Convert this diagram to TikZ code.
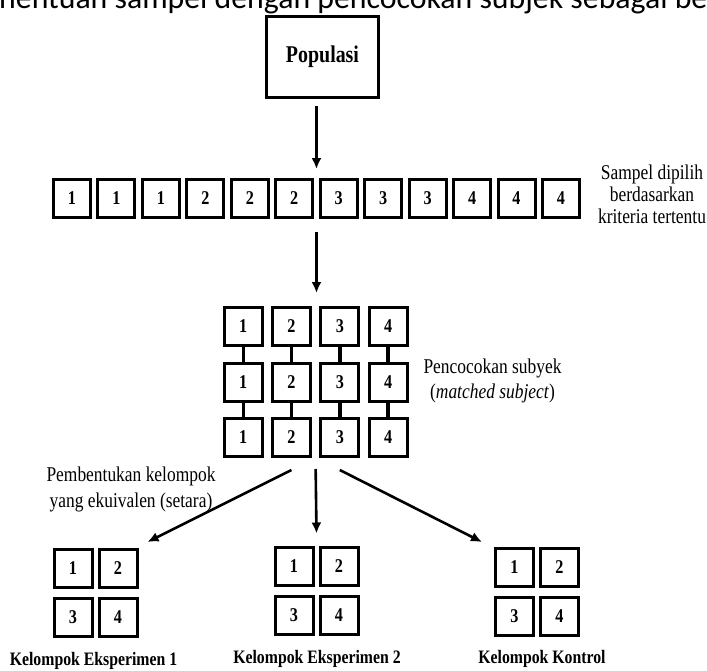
\documentclass[tikz,border=0pt]{standalone}
\usepackage{fontspec}
\setmainfont{Liberation Serif}[FakeStretch=0.83]
\newfontfamily\captionfont{Carlito}
\usepackage{tikz}
\usetikzlibrary{arrows.meta}
\usetikzlibrary{positioning}
\usetikzlibrary{calc}
\tikzset{>=latex}
\tikzset{
    flow/.style = {-{Latex[length=11pt,width=10pt]}, line width=2.6pt},
    pair/.style = {line width=3.4pt},
}
\newcommand\cellsize{38pt}
\newcommand\rowstep{44.45pt}
\newcommand\gridstep{48.3pt}
\tikzset{
    cell/.style={draw, line width=3pt, minimum width=\cellsize, minimum height=\cellsize, inner sep=0pt, font=\bfseries\fontsize{19.5}{19.5}\selectfont, on grid},
    rowcell/.style={cell, minimum width=37pt, node distance=\rowstep},
    gridcell/.style={cell, node distance=55.5pt and \gridstep},
    groupcell/.style={cell, node distance=49pt and 45pt},
    note/.style={align=center, inner sep=0pt},
    grouplabel/.style={anchor=base, inner sep=0pt, font=\bfseries\fontsize{19}{22}\selectfont},
}

\begin{document}
\begin{tikzpicture}[x=1pt,y=-1pt]
    \path[use as bounding box, clip] (0,0) rectangle (707,670);
    \node(cap)[anchor=base west, inner sep=0pt, font=\captionfont\fontsize{31.8}{36}\selectfont] at (-1,8) {\llap{Pe}nentuan sampel dengan pencocokan subjek sebagai berikut};
    \node(pop)[draw, line width=3pt, minimum width=112pt, minimum height=81pt, font=\bfseries\fontsize{24}{24}\selectfont] at (322.5,57) {Populasi};
    % sampel
    \node(r1)[rowcell] at (72,198.5) {1};
    \node(r2)[rowcell, right=of r1] {1};
    \node(r3)[rowcell, right=of r2] {1};
    \node(r4)[rowcell, right=of r3] {2};
    \node(r5)[rowcell, right=of r4] {2};
    \node(r6)[rowcell, right=of r5] {2};
    \node(r7)[rowcell, right=of r6] {3};
    \node(r8)[rowcell, right=of r7] {3};
    \node(r9)[rowcell, right=of r8] {3};
    \node(r10)[rowcell, right=of r9] {4};
    \node(r11)[rowcell, right=of r10] {4};
    \node(r12)[rowcell, right=of r11] {4};
    \node(sampel)[note, font=\fontsize{21}{22}\selectfont] at (652,194) {Sampel dipilih\\berdasarkan\\kriteria tertentu};
    % pencocokan
    \node(m11)[gridcell] at (243.2,326.5) {1};
    \node(m12)[gridcell, right=of m11] {2};
    \node(m13)[gridcell, right=of m12] {3};
    \node(m14)[gridcell, right=of m13] {4};
    \node(m21)[gridcell, below=of m11] {1};
    \node(m22)[gridcell, right=of m21] {2};
    \node(m23)[gridcell, right=of m22] {3};
    \node(m24)[gridcell, right=of m23] {4};
    \node(m31)[gridcell, below=of m21] {1};
    \node(m32)[gridcell, right=of m31] {2};
    \node(m33)[gridcell, right=of m32] {3};
    \node(m34)[gridcell, right=of m33] {4};
    \draw[pair] (m11) -- (m21);
    \draw[pair] (m12) -- (m22);
    \draw[pair] (m13) -- (m23);
    \draw[pair] (m14) -- (m24);
    \draw[pair] (m21) -- (m31);
    \draw[pair] (m22) -- (m32);
    \draw[pair] (m23) -- (m33);
    \draw[pair] (m24) -- (m34);
    \node(match)[note, font=\fontsize{21}{25}\selectfont] at (492.5,381) {Pencocokan subyek\\(\textit{matched subject})};
    \node(bentuk)[note, font=\fontsize{21}{26}\selectfont] at (131,489) {Pembentukan kelompok\\yang ekuivalen (setara)};
    % kelompok
    \node(ea1)[groupcell] at (73,568.5) {1};
    \node(ea2)[groupcell, right=of ea1] {2};
    \node(ea3)[groupcell, below=of ea1] {3};
    \node(ea4)[groupcell, right=of ea3] {4};
    \node(eb1)[groupcell] at (294,566) {1};
    \node(eb2)[groupcell, right=of eb1] {2};
    \node(eb3)[groupcell, below=of eb1] {3};
    \node(eb4)[groupcell, right=of eb3] {4};
    \node(k1)[groupcell] at (514.5,567.5) {1};
    \node(k2)[groupcell, right=of k1] {2};
    \node(k3)[groupcell, below=of k1] {3};
    \node(k4)[groupcell, right=of k3] {4};
    \node(lab1)[grouplabel] at (93.5,665) {Kelompok Eksperimen 1};
    \node(lab2)[grouplabel] at (317,663.5) {Kelompok Eksperimen 2};
    \node(lab3)[grouplabel] at (542,663.5) {Kelompok Kontrol};
    % panah
    \coordinate (in1) at ($(r6.north)!.5!(r7.north)$);
    \draw[flow] ($(pop.south -| in1)+(0,7)$) -- ($(in1)+(0,-9)$);
    \draw[flow] ($(in1 |- r6.south)+(0,13)$) -- ($(in1 |- m12.north)+(0,-13)$);
    \draw[flow] ($(m32.south)+(0,12)$) -- ([xshift=9pt,yshift=6pt]ea2.north east);
    \draw[flow] ($(m32.south)!.5!(m33.south)+(0,11)$) -- ($(eb1.north)!.5!(eb2.north)+(0,-12)$);
    \draw[flow] ($(m33.south)+(0,12)$) -- ([xshift=-12pt,yshift=5pt]k1.north west);
\end{tikzpicture}
\end{document}
